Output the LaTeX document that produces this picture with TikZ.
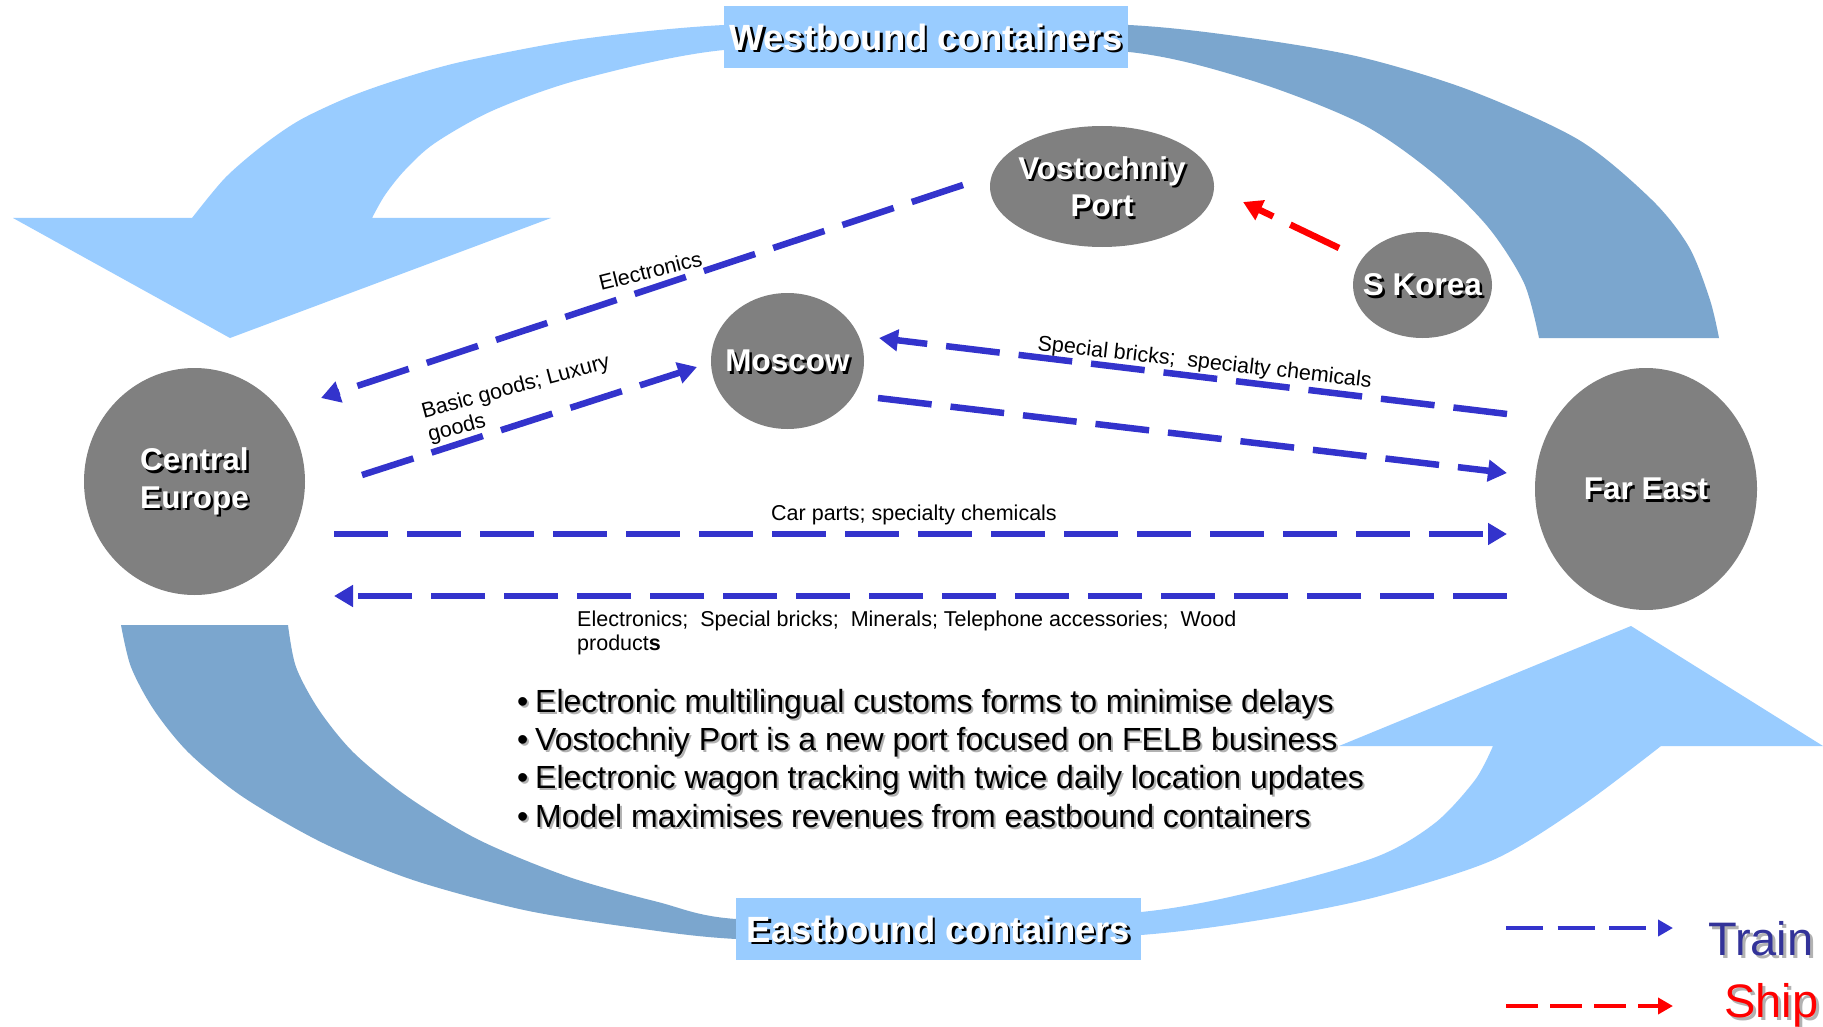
\documentclass[tikz,border=0pt]{standalone}
\usepackage{fontspec}
\setmainfont{Liberation Sans}
\usetikzlibrary{arrows.meta,shapes.geometric}
\definecolor{lightband}{HTML}{99CCFF}
\definecolor{darkband}{HTML}{7BA6CE}
\definecolor{nodegray}{HTML}{808080}
\definecolor{trainblue}{HTML}{3333CC}
\definecolor{traintext}{HTML}{333399}
\newcommand{\shtxt}[3]{\makebox[0pt][l]{\hspace*{#2}\raisebox{-#2}[0pt][0pt]{\textcolor{#1}{#3}}}#3}
\newcommand{\shw}[1]{\shtxt{black}{2.5pt}{#1}}
\newcommand{\ctext}[1]{\makebox[0pt]{\shw{#1}}}
\newcommand{\shb}[1]{\shtxt{black!30}{2pt}{#1}}
\tikzset{
  city/.style={ellipse, fill=nodegray, inner sep=0pt, text=white,
    font=\fontsize{31.5}{37.5}\selectfont\bfseries, align=center},
  banner/.style={fill=lightband, inner sep=0pt, text=white,
    font=\fontsize{36.5}{40}\selectfont\bfseries},
  train/.style={draw=trainblue, line width=6.5pt, dash pattern=on 54pt off 19pt,
    -{Triangle[length=19pt,width=21pt]}},
  shipline/.style={draw=red, line width=6.5pt, dash pattern=on 54pt off 19pt,
    -{Triangle[length=19pt,width=21pt]}},
  lbl/.style={inner sep=0pt, font=\fontsize{21.5}{24.5}\selectfont, align=left},
}
\begin{document}
\begin{tikzpicture}[x=1pt,y=-1pt]
\useasboundingbox (0,0) rectangle (1823,1027);
\fill[white] (0,0) rectangle (1823,1027);

% ---- westbound band (top) ----
\fill[lightband] plot[smooth] coordinates {(926,21) (724,25) (582,39) (465,61) (400,79) (349,97) (300,120) (262,146) (225,178) (192,218)}
  -- (13,218) -- (230,338) -- (551,218) -- (372,218)
  -- plot[smooth] coordinates {(372,218) (385,195) (405,170) (435,143) (494,110) (582,79) (724,50) (926,46)} -- cycle;
\fill[darkband] plot[smooth] coordinates {(926,21) (1129,25) (1250,38) (1360,57) (1469,90) (1579,140) (1652,200) (1689,247) (1710,300) (1719,338)}
  -- (1539,338)
  -- plot[smooth] coordinates {(1539,338) (1524,283) (1488,227) (1433,173) (1360,123) (1250,80) (1129,52) (926,46)} -- cycle;

% ---- eastbound band (bottom) ----
\fill[darkband] plot[smooth] coordinates {(121,625) (131,667) (154,710) (189,753) (243,797) (323,843) (413,880) (524,910) (636,928) (736,939) (938,945)}
  -- (938,922)
  -- plot[smooth] coordinates {(938,922) (736,919) (658,902) (569,877) (479,840) (408,797) (354,753) (319,710) (296,667) (288,625)} -- cycle;
\fill[lightband] plot[smooth] coordinates {(938,945) (1141,935) (1260,920) (1376,897) (1493,860) (1580,807) (1661,746)}
  -- (1823,746) -- (1631,626) -- (1339,746) -- (1493,746)
  -- plot[smooth] coordinates {(1493,746) (1475,780) (1435,823) (1376,857) (1260,890) (1141,912) (938,922)} -- cycle;

% ---- banners ----
\node[banner, minimum width=404pt, minimum height=62pt] (wb) at (926,37) {\shw{Westbound containers}};
\node[banner, minimum width=405pt, minimum height=62pt] (eb) at (938.5,929) {\shw{Eastbound containers}};

% ---- places ----
\node[city, minimum width=221pt, minimum height=227pt] (ce) at (194.5,481.5) {\ctext{Central}\\\ctext{Europe}};
\node[city, minimum width=222pt, minimum height=242pt] (fe) at (1646,489) {\ctext{Far East}};
\node[city, minimum width=153pt, minimum height=136pt] (mo) at (787.5,361) {\ctext{Moscow}};
\node[city, minimum width=224pt, minimum height=121pt] (vp) at (1102,186.5) {\ctext{Vostochniy}\\\ctext{Port}};
\node[city, minimum width=139pt, minimum height=106pt] (sk) at (1422.5,285) {\ctext{S Korea}};

% ---- connector end points ----
\coordinate (vp-w) at (963,185);
\coordinate (ce-ne) at (321,398);
\coordinate (ce-e1) at (362,475);
\coordinate (mo-w) at (697,367);
\coordinate (fe-nw) at (1507,414);
\coordinate (mo-e1) at (879,338);
\coordinate (mo-e2) at (878,398);
\coordinate (fe-w1) at (1507,473);
\coordinate (ce-e2) at (334,534);
\coordinate (fe-w2) at (1507,534);
\coordinate (fe-w3) at (1507,596);
\coordinate (ce-e3) at (334,596);
\coordinate (sk-w) at (1339,248);
\coordinate (vp-e) at (1243,202);

\draw[train] (vp-w) -- (ce-ne);
\draw[train] (ce-e1) -- (mo-w);
\draw[train] (fe-nw) -- (mo-e1);
\draw[train] (mo-e2) -- (fe-w1);
\draw[train] (ce-e2) -- (fe-w2);
\draw[train] (fe-w3) -- (ce-e3);
\draw[shipline] (sk-w) -- (vp-e);

% ---- connector labels ----
\node[lbl, anchor=base west, rotate=14] (l-elec) at (601,291) {Electronics};
\node[lbl, anchor=base west, rotate=15] (l-basic) at (430,442) {Basic goods; Luxury\\goods};
\node[lbl, anchor=base west, rotate=-6.4] (l-spec) at (1037,350) {Special bricks;\ \ specialty chemicals};
\node[lbl, anchor=base] (l-car) at (914,520) {Car parts; specialty chemicals};
\node[lbl, anchor=base west] (l-west) at (577,650.5) {Electronics;\ \ Special bricks;\ \ Minerals; Telephone accessories;\ \ Wood\\product\textbf{s}};

% ---- notes ----
\node[anchor=base west, inner sep=0pt, align=left, font=\fontsize{32}{38.4}\selectfont] (notes) at (517,827.2) {%
\makebox[18pt][l]{\shb{•}}\shb{Electronic multilingual customs forms to minimise delays}\\
\makebox[18pt][l]{\shb{•}}\shb{Vostochniy Port is a new port focused on FELB business}\\
\makebox[18pt][l]{\shb{•}}\shb{Electronic wagon tracking with twice daily location updates}\\
\makebox[18pt][l]{\shb{•}}\shb{Model maximises revenues from eastbound containers}};

% ---- legend ----
\coordinate (lt1) at (1506,928);
\coordinate (lt2) at (1673,928);
\coordinate (ls1) at (1506,1006);
\coordinate (ls2) at (1673,1006);
\draw[trainblue, line width=4.5pt, dash pattern=on 37pt off 14.5pt, -{Triangle[length=15pt,width=16pt]}] (lt1) -- (lt2);
\draw[red, line width=4.5pt, dash pattern=on 32pt off 12pt, -{Triangle[length=15pt,width=16pt]}] (ls1) -- (ls2);
\node[anchor=base west, inner sep=0pt, text=traintext, font=\fontsize{47}{50}\selectfont] (ltrain) at (1708,955) {\shtxt{black!30}{3pt}{Train}};
\node[anchor=base west, inner sep=0pt, text=red, font=\fontsize{47}{50}\selectfont] (lship) at (1724,1017) {\shtxt{black!30}{3pt}{Ship}};
\end{tikzpicture}
\end{document}
